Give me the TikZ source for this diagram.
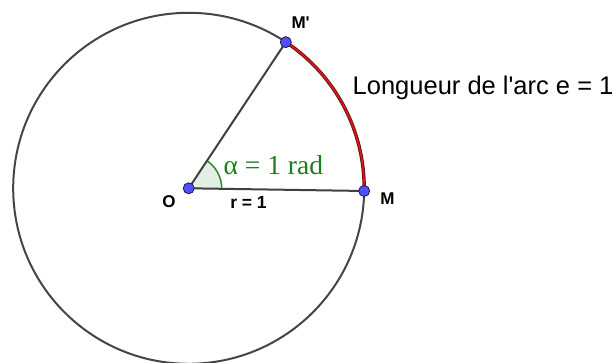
\documentclass[tikz,border=0pt]{standalone}
\usepackage{fontspec}
\setmainfont{Liberation Sans}
\newfontfamily\seriffont{Liberation Serif}
\usetikzlibrary{calc}
\definecolor{circgray}{HTML}{454545}
\definecolor{seggray}{HTML}{404040}
\definecolor{ptblue}{HTML}{5050FF}
\definecolor{ptedge}{HTML}{1A1A40}
\definecolor{arcred}{HTML}{D81818}
\definecolor{arcdark}{HTML}{5A1010}
\definecolor{angfill}{HTML}{E3EFE3}
\definecolor{angedge}{HTML}{3C8C3C}
\definecolor{txtgreen}{HTML}{1B7F1B}
\tikzset{
  pt/.style={circle, fill=ptblue, draw=ptedge, line width=0.8pt, inner sep=0pt, minimum size=11pt},
  ptlabel/.style={font=\bfseries\fontsize{17}{20}\selectfont, inner sep=0pt},
  seg/.style={draw=seggray, line width=2pt},
}
\begin{document}
\begin{tikzpicture}[x=1pt,y=1pt]
\useasboundingbox (0,0) rectangle (616,363);
\coordinate (O) at (188.7,174.7);
\coordinate (M) at ($(O)+(-0.88:175.5)$);
\coordinate (Mp) at ($(O)+(56.4:175.5)$);
% circle
\draw[circgray, line width=2pt] (O) circle[radius=175.5];
% angle sector
\fill[angfill] (O) -- ++(-0.88:33) arc[start angle=-0.88, end angle=56.4, radius=33] -- cycle;
\draw[angedge, line width=1.6pt] ($(O)+(-0.88:33)$) arc[start angle=-0.88, end angle=56.4, radius=33];
% segments
\draw[seg] (O) -- (M);
\draw[seg] (O) -- (Mp);
% red arc
\draw[arcdark, line width=3.4pt] (M) arc[start angle=-0.88, end angle=56.4, radius=175.5];
\draw[arcred, line width=1.8pt] (M) arc[start angle=-0.88, end angle=56.4, radius=175.5];
% points
\node[pt] (nO) at (O) {};
\node[pt] (nM) at (M) {};
\node[pt] (nMp) at (Mp) {};
% labels
\node[ptlabel] (lO) at (169,161.3) {O};
\node[ptlabel] (lM) at (387.5,164.3) {M};
\node[ptlabel, anchor=base west] (lMp) at (291.3,334.7) {M\textquotesingle};
\node[font=\bfseries\fontsize{17.5}{20}\selectfont, inner sep=0pt] (lr) at (248.5,161) {r = 1};
\node[font=\seriffont\fontsize{27.5}{32}\selectfont, text=txtgreen, anchor=base west, inner sep=0pt] (lalpha) at (223.5,188) {α = 1 rad};
\node[font=\fontsize{25.5}{30}\selectfont, anchor=base west, inner sep=0pt] (ltxt) at (352.5,268) {Longueur de l\textquotesingle arc e = 1};
\end{tikzpicture}
\end{document}
